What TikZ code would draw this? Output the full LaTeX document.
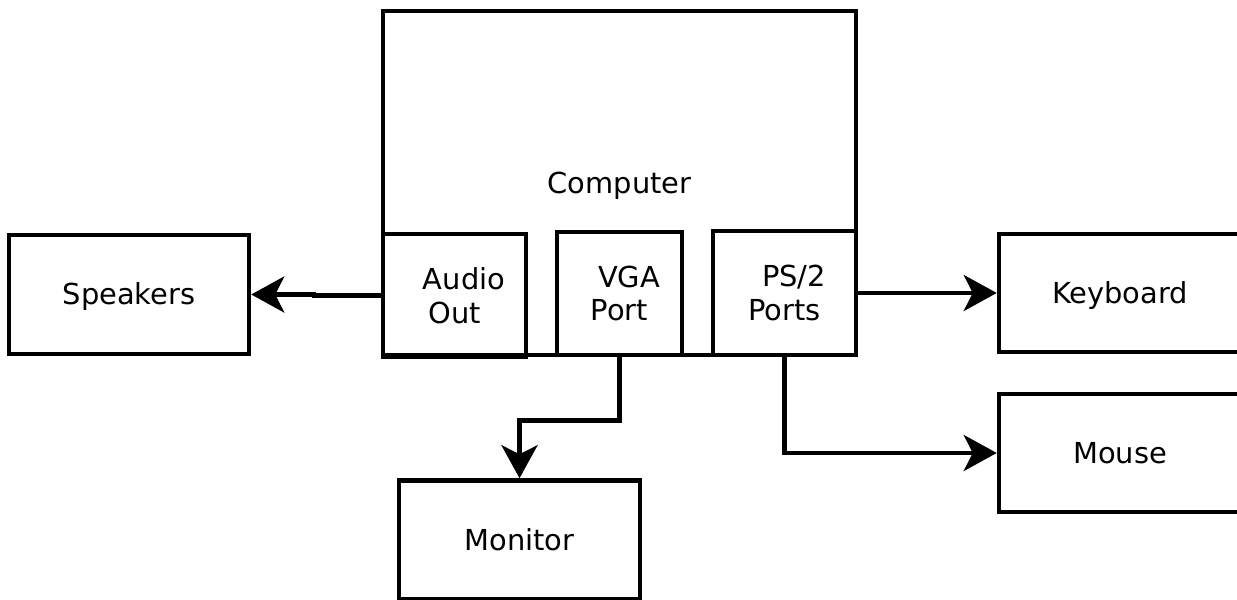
\documentclass[tikz,border=0pt]{standalone}
\usepackage{fontspec}
\setmainfont{DejaVu Sans}
\usetikzlibrary{arrows.meta}

\begin{document}
\begin{tikzpicture}[x=1bp,y=-1bp,font=\fontsize{29}{34}\selectfont,box/.style={draw,line width=4.5bp,inner sep=0pt,align=center},dev/.style={box,minimum width=241bp,minimum height=119bp,text height=21bp,text depth=0pt},wire/.style={line width=4.5bp,-{Stealth[length=33bp,width=36bp,inset=9bp]}}]
\useasboundingbox(0,0)rectangle(1237,600);
\clip(0,0)rectangle(1237,600);

% Main unit with its three ports along the bottom edge
\node[dev,minimum width=473bp,minimum height=344bp](computer)at(619.5,183){Computer};
\node[box,minimum width=143bp,minimum height=123bp](audio)at(454.5,295.5){\hspace*{19bp}Audio\\Out};
\node[box,minimum width=125bp,minimum height=123bp](vga)at(619.5,293.5){\hspace*{19bp}VGA\\Port};
\node[box,minimum width=143bp,minimum height=124bp](ps2)at(784.5,293){\hspace*{19bp}PS/2\\Ports};

% Peripherals (right and bottom ones run past the edge)
\node[dev,minimum width=240bp](speakers)at(129,294.5){Speakers};
\node[dev,minimum width=242bp,minimum height=118bp](keyboard)at(1120,293){Keyboard};
\node[dev,minimum width=242bp,minimum height=118bp](mouse)at(1120,453){Mouse};
\node[dev](monitor)at(519.5,540){Monitor};

\draw[wire](audio.west)--++(-67,0)|-(speakers.east);
\draw[wire](vga.south)--++(0,63)-|(monitor.north);
\draw[wire](ps2.east)--(keyboard.west);
\draw[wire](ps2.south)|-(mouse.west);
\end{tikzpicture}
\end{document}
